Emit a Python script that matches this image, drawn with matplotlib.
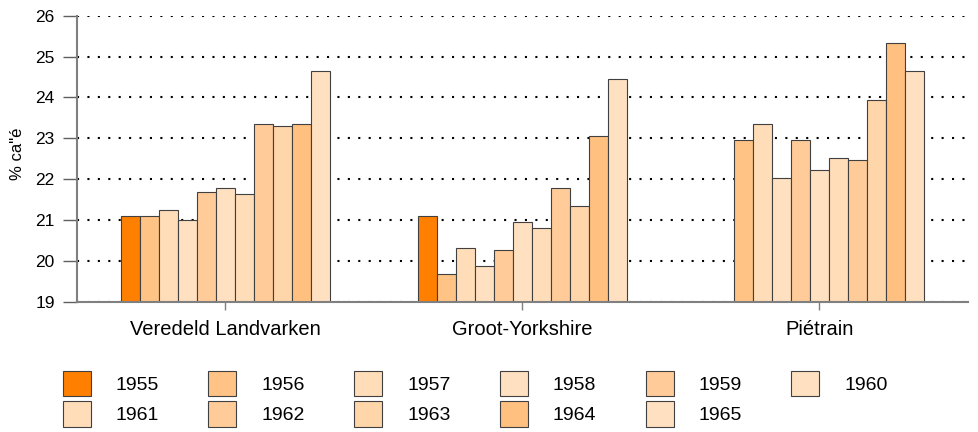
import matplotlib.pyplot as plt
import numpy as np
from matplotlib.patches import Patch

plt.rcParams['font.family'] = ['Liberation Sans', 'DejaVu Sans']

rassen = ["Veredeld Landvarken", "Groot-Yorkshire", "Piétrain"]
jaren = ["1955", "1956", "1957", "1958", "1959", "1960",
         "1961", "1962", "1963", "1964", "1965"]

landvarken = [21.10, 21.10, 21.24, 20.99, 21.68, 21.78, 21.63, 23.34, 23.29, 23.34, 24.65]
yorkshire = [21.10, 19.68, 20.31, 19.87, 20.27, 20.95, 20.80, 21.78, 21.34, 23.05, 24.46]
pietrain = [np.nan, 22.95, 23.34, 22.02, 22.95, 22.22, 22.51, 22.46, 23.93, 25.34, 24.65]

kleuren = ["#FF8000", "#FFC385", "#FFDDB8", "#FFE0C0", "#FFCB98", "#FFE0C0",
           "#FFDDB9", "#FFCB98", "#FFD5AA", "#FFC080", "#FFE0C0"]

waarden = np.array([landvarken, yorkshire, pietrain])

fig = plt.figure(figsize=(9.79, 4.32), dpi=100)
ax = fig.add_axes([77/979, 1 - 301.7/432, 891/979, 286/432])

bodem = 19
n = len(jaren)
breedte = 0.707 / n
x = np.arange(len(rassen))
for j in range(n):
    pos = x - 0.707/2 + breedte*(j + 0.5)
    ax.bar(pos, waarden[:, j] - bodem, bottom=bodem, width=breedte,
           color=kleuren[j], edgecolor="#404040", linewidth=0.8, zorder=3)

ax.set_xlim(-0.5, 2.5)
ax.set_ylim(19, 26)
ax.set_yticks(range(19, 27))
ax.set_xticks(x)
ax.set_xticklabels(rassen, fontsize=14.5)
ax.tick_params(axis='y', labelsize=12.5, length=10, width=1, color="#606060", pad=6)
ax.tick_params(axis='x', length=6, width=1, color="#808080", pad=7)
ax.set_ylabel('% ca"é', fontsize=12)
ax.yaxis.set_label_coords(-0.058, 0.516)

ax.yaxis.grid(True, color="black", linestyle=(0, (1, 4)), linewidth=1.5, zorder=0)
ax.set_axisbelow(True)
for s in ["top", "right"]:
    ax.spines[s].set_visible(False)
for s in ["left", "bottom"]:
    ax.spines[s].set_color("#808080")
    ax.spines[s].set_linewidth(1.5)
    ax.spines[s].set_zorder(4)

# legenda rij voor rij vullen
volgorde = [0, 6, 1, 7, 2, 8, 3, 9, 4, 10, 5]
handles = [Patch(facecolor=kleuren[i], edgecolor="#404040", linewidth=0.8) for i in volgorde]
labels = [jaren[i] for i in volgorde]
fig.legend(handles, labels, ncol=6, loc="upper left", bbox_to_anchor=(55/979, 1 - 363/432),
           frameon=False, fontsize=14, handlelength=1.44, handleheight=1.65,
           handletextpad=1.29, columnspacing=2.53, labelspacing=0.25, borderaxespad=0)

fig.savefig("out.png", dpi=100)
